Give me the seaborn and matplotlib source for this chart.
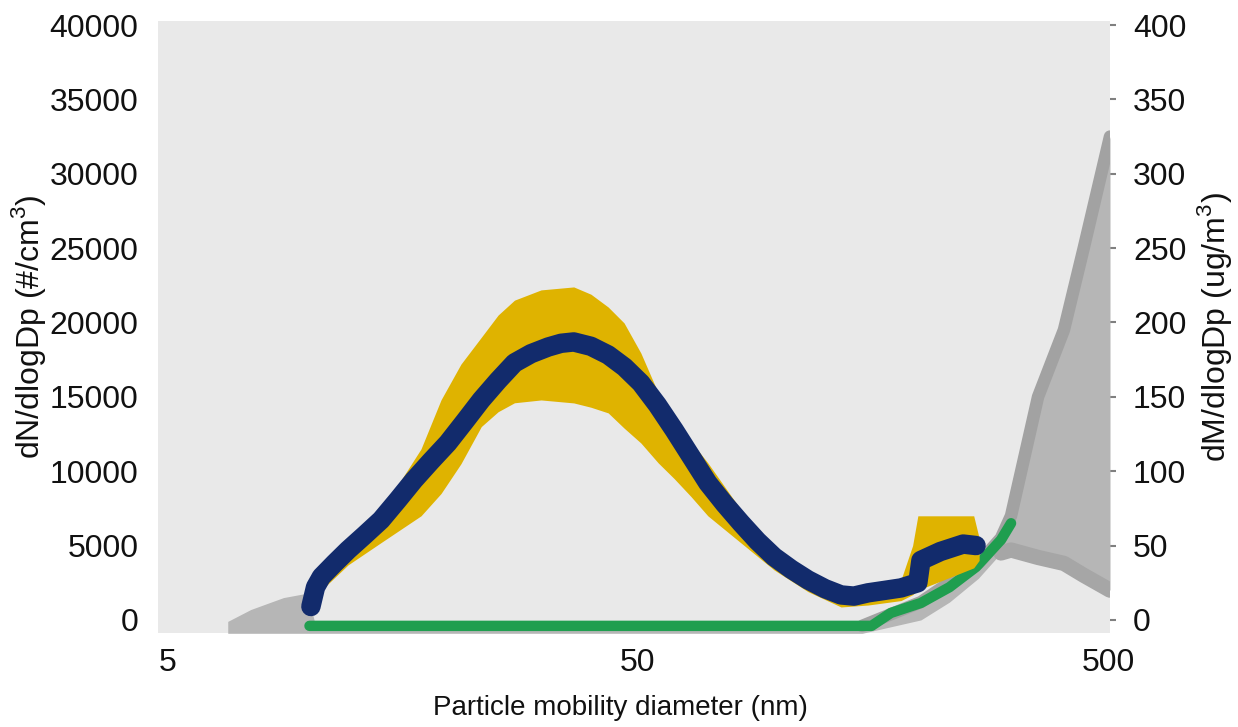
import numpy as np
import pandas as pd
import matplotlib
matplotlib.use('Agg')
import matplotlib.pyplot as plt
import seaborn as sns

# number size distribution, mean (left axis, #/cm3)
dn_diam = [10.07, 10.3, 10.6, 11.3, 12.08, 13.1, 14.2, 15.4, 16.69, 18.1, 19.7, 21.4,
           23.2, 25.2, 27.3, 29.6, 32.2, 34.3, 36.5, 39.7, 43.2, 46.8, 50.7, 55.0,
           59.7, 64.8, 70.4, 76.4, 82.8, 89.8, 97.4, 106, 115, 125, 135.2, 144, 154.3,
           167, 181.4, 197, 200, 220, 246, 262]
dn_mean = [900, 2200, 2900, 3800, 4700, 5700, 6720, 8050, 9410, 10650, 11900, 13350,
           14790, 16100, 17280, 17900, 18350, 18600, 18690, 18400, 17820, 17000, 15930, 14450,
           12770, 11000, 9210, 7800, 6520, 5300, 4240, 3400, 2690, 2100, 1680, 1600, 1820,
           1980, 2150, 2500, 4000, 4600, 5100, 5000]

# number size distribution, spread (yellow band)
band_diam = [10.07, 10.6, 12.08, 14.2, 17.27, 19.05, 21.0, 23.2, 25.2, 27.3, 31.1, 36.5,
             39.7, 43.2, 46.7, 50.7, 55.2, 59.7, 64.8, 70.4, 82.8, 97.4, 115, 135.2, 154.3,
             181.4, 192, 197, 259, 266]
band_hi = [900, 3200, 5200, 7300, 11500, 14800, 17200, 19000, 20500, 21500, 22190, 22390,
           21900, 21040, 19970, 17950, 15260, 13650, 12000, 10560, 7400, 4900, 3160, 2020, 2100,
           2700, 5000, 7000, 7000, 5500]
band_lo = [700, 2000, 3700, 5200, 7000, 8500, 10500, 13000, 14000, 14600, 14790, 14590,
           14300, 13920, 12900, 11900, 10560, 9500, 8300, 7000, 5180, 3360, 1900, 870, 1000,
           1300, 1700, 2000, 3500, 4000]

# mass size distribution, mean (right axis, ug/m3)
dm_diam = [10.0, 30, 60, 100, 157, 172.6, 200, 230, 262, 296, 311]
dm_mean = [-4, -4, -4, -4, -4, 4.7, 11.4, 22, 35.6, 53.8, 65]

# mass size distribution, spread (gray)
gm_diam = [6.7, 7.5, 8.8, 9.9, 10.3, 150, 200, 230, 265, 296, 311, 355, 403, 444, 505]
gm_hi = [-1, 7, 15, 18, -4, -4, 12, 25, 38, 55, 70, 150, 195, 250, 325]
gm_lo = [-9, -9, -9, -9, -9, -9, 0, 12, 28, 45, 47, 42, 38, 30, 20]

left_ticks = [0, 5000, 10000, 15000, 20000, 25000, 30000, 35000, 40000]
right_ticks = [0, 50, 100, 150, 200, 250, 300, 350, 400]
x_ticks = [5, 50, 500]

sns.set_theme(style='white')
plt.rcParams['font.family'] = ['Liberation Sans', 'DejaVu Sans']
plt.rcParams['mathtext.fontset'] = 'custom'
plt.rcParams['mathtext.rm'] = 'Liberation Sans'

fig = plt.figure(figsize=(12.38, 7.27), dpi=100)
ax = fig.add_axes([0.1276, 0.1293, 0.769, 0.8418])
ax2 = ax.twinx()
ax.set_zorder(ax2.get_zorder() + 1)
ax.patch.set_visible(False)
ax2.set_facecolor('#e9e9e9')
ax2.patch.set_visible(True)

# gray mass spread + green mass mean on right axis
ax2.fill_between(gm_diam, gm_lo, gm_hi, color='#b6b6b6', lw=0)
ax2.plot(gm_diam[5:], gm_hi[5:], color='#a2a2a2', lw=9, solid_capstyle='round')
ax2.plot(gm_diam[9:], gm_lo[9:], color='#a6a6a6', lw=11, solid_capstyle='round')
sns.lineplot(x=dm_diam, y=dm_mean, ax=ax2, color='#1f9e4f', lw=7.5, legend=False)

# yellow band + navy mean on left axis
ax.fill_between(band_diam, band_lo, band_hi, color='#dfb300', lw=0)
sns.lineplot(x=dn_diam, y=dn_mean, ax=ax, color='#122b6c', lw=14,
             legend=False, solid_capstyle='round')

ax.set_xscale('log')
ax.set_xlim(4.76, 505)
ax.set_ylim(-880, 40270)
ax2.set_ylim(-8.8, 402.7)

ax.set_xticks(x_ticks)
ax.set_xticklabels([str(t) for t in x_ticks])
ax.minorticks_off()
ax.set_yticks(left_ticks)
ax.set_yticklabels([str(t) for t in left_ticks])
ax2.set_yticks(right_ticks)
ax2.set_yticklabels([str(t) for t in right_ticks])

ax.tick_params(axis='x', length=0, pad=11, labelsize=23, colors='#111111')
ax.tick_params(axis='y', length=0, pad=14, labelsize=23, colors='#111111')
ax2.tick_params(axis='y', length=4.5, width=1.5, color='#808080', pad=12,
                labelsize=23, labelcolor='#111111')

for a in (ax, ax2):
    for s in a.spines.values():
        s.set_visible(False)
    a.grid(False)

fig.text(620 / 1238, 1 - 708 / 727, 'Particle mobility diameter (nm)',
         ha='center', va='center', fontsize=20, color='#111111')
fig.text(29 / 1238, 1 - 327 / 727, 'dN/dlogDp (#/cm$^{3}$)', rotation=90,
         ha='center', va='center', fontsize=23, color='#111111')
fig.text(1214 / 1238, 1 - 327 / 727, 'dM/dlogDp (ug/m$^{3}$)', rotation=90,
         ha='center', va='center', fontsize=23, color='#111111')

fig.savefig('out.png', dpi=100)
